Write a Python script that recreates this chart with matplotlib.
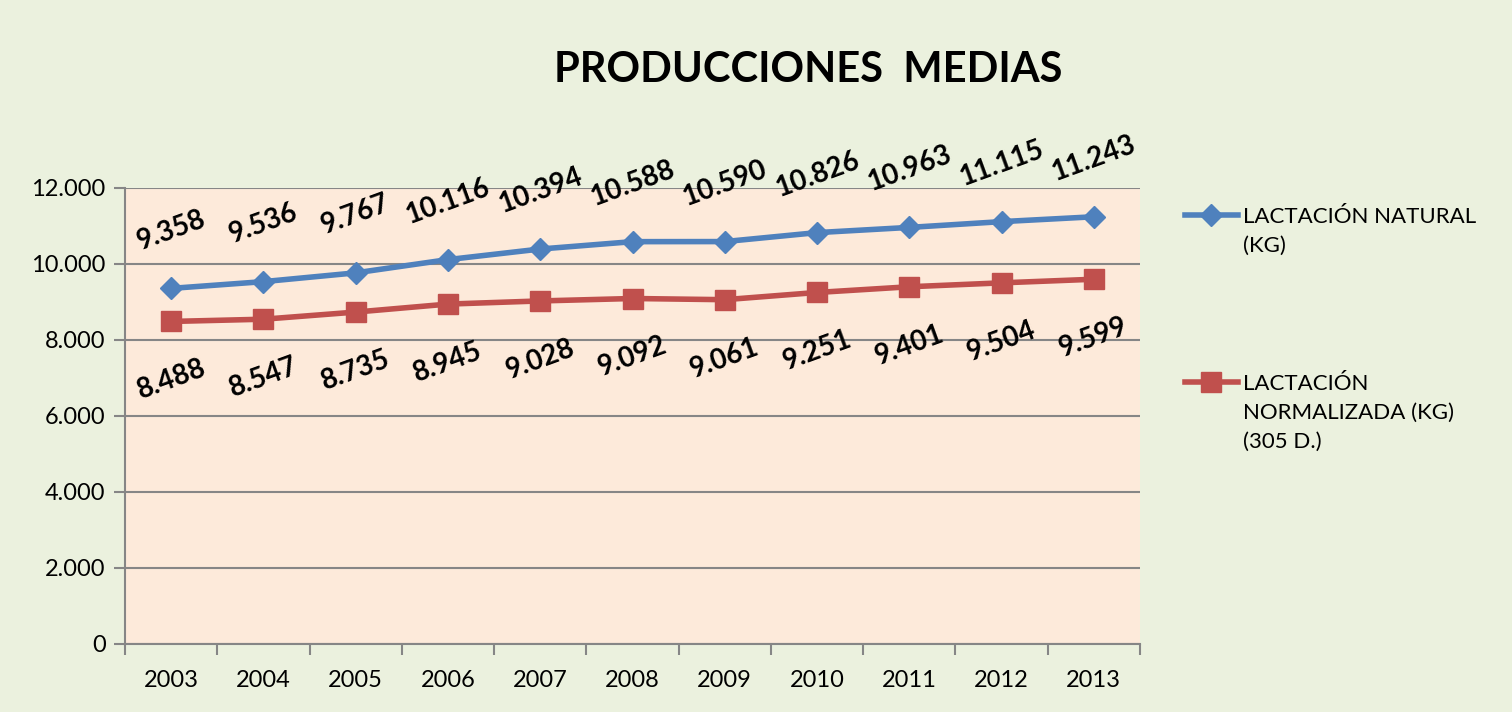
import numpy as np
import matplotlib.pyplot as plt
from matplotlib.lines import Line2D

years = ['2003', '2004', '2005', '2006', '2007', '2008', '2009', '2010', '2011', '2012', '2013']
natural = [9358, 9536, 9767, 10116, 10394, 10588, 10590, 10826, 10963, 11115, 11243]
normalizada = [8488, 8547, 8735, 8945, 9028, 9092, 9061, 9251, 9401, 9504, 9599]
y_ticks = [0, 2000, 4000, 6000, 8000, 10000, 12000]
series_names = ['LACTACIÓN NATURAL\n(KG)', 'LACTACIÓN\nNORMALIZADA (KG)\n(305 D.)']

blue = '#4F81BD'
red = '#C0504D'
grid = '#868686'

plt.rcParams['font.family'] = ['Lato', 'DejaVu Sans']


def miles(v):
   return '{:,}'.format(int(v)).replace(',', '.')


fig = plt.figure(figsize=(15.12, 7.12), dpi=100)
fig.patch.set_facecolor('#EBF1DE')
ax = fig.add_axes([125/1512, 1 - 644/712, 1015/1512, 456/712])
ax.set_facecolor('#FDEADA')

x = np.arange(len(years))
styles = [dict(color=blue, marker='D', ms=11), dict(color=red, marker='s', ms=14)]
ax.plot(x, natural, lw=4, zorder=3, **styles[0])
ax.plot(x, normalizada, lw=4, zorder=3, **styles[1])

for xi, v in zip(x, natural):
   ax.annotate(miles(v), (xi, v), xytext=(0, 42), textcoords='offset points',
               ha='center', va='center', rotation=20, fontsize=20, fontweight='bold')
for xi, v in zip(x, normalizada):
   ax.annotate(miles(v), (xi, v), xytext=(0, -42), textcoords='offset points',
               ha='center', va='center', rotation=20, fontsize=20, fontweight='bold')

ax.set_xlim(-0.5, len(years) - 0.5)
ax.set_ylim(0, 12000)
ax.set_yticks(y_ticks)
ax.set_yticklabels([miles(v) for v in y_ticks], fontsize=17)
ax.set_xticks(x)
ax.set_xticklabels(years, fontsize=17)
ax.tick_params(axis='x', which='major', length=0, pad=19)
ax.set_xticks(np.arange(-0.5, len(years)), minor=True)
ax.tick_params(axis='x', which='minor', length=8, width=1.5, color=grid, direction='out')
ax.tick_params(axis='y', length=8, width=1.5, color=grid, direction='out', pad=6)
ax.grid(axis='y', color=grid, lw=1.5)
ax.set_axisbelow(True)
for side in ['top', 'right']:
   ax.spines[side].set_visible(False)
for side in ['left', 'bottom']:
   ax.spines[side].set_color(grid)
   ax.spines[side].set_linewidth(1.5)

fig.text(808/1512, 1 - 70/712, 'PRODUCCIONES  MEDIAS', ha='center', va='center',
         fontsize=30, fontweight='bold')

# legend drawn by hand so the key sits on the first line of each label
W, H = 1512, 712
for name, style, y0 in zip(series_names, styles, [215, 382]):
   fig.add_artist(Line2D([1185/W, 1238/W], [1 - y0/H, 1 - y0/H], lw=4,
                         color=style['color'], transform=fig.transFigure))
   fig.add_artist(Line2D([1211/W], [1 - y0/H], ls='none', transform=fig.transFigure, **style))
   fig.text(1243/W, 1 - (y0 - 8)/H, name, ha='left', va='top', fontsize=16,
            linespacing=1.55)

fig.savefig('out.png', dpi=100, facecolor=fig.get_facecolor())
